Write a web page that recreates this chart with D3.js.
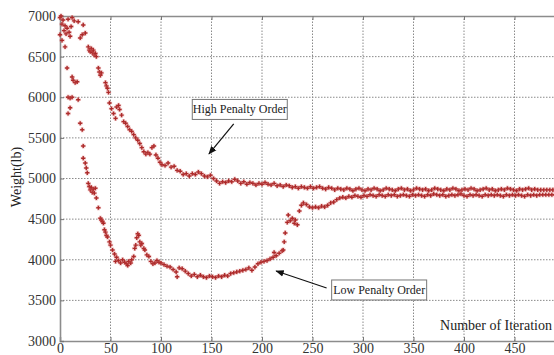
<!DOCTYPE html>
<html>
<head>
<meta charset="utf-8">
<script src="https://cdn.jsdelivr.net/npm/d3@7"></script>
<style>
  body { margin: 0; background: #fff; }
  svg { display: block; }
  text { font-family: "Liberation Serif", "Times New Roman", serif; }
</style>
</head>
<body>
<div id="chart"></div>
<script>
// [iteration, weight]
const highPoints = [
  [0,6980],[1,7000],[2,6900],[3,6950],[4,6820],[5,6880],[6,6780],[7,6850],[8,6960],[9,6800],
  [10,6750],[11,6870],[12,6980],[14,6940],[18,6930],[20,6730],[22,6770],[23,6890],[25,6790],
  [28,6620],[29,6580],[30,6560],[31,6600],[32,6550],[33,6580],[34,6520],[35,6540],[36,6500],
  [38,6360],[39,6310],[40,6270],[41,6300],[45,6180],[46,6140],[47,6110],[48,6060],
  [49,5930],[51,5860],[53,5800],[55,5740],[56,5880],[58,5900],[59,5850],[61,5780],[63,5700],
  [65,5680],[67,5640],[69,5600],[71,5580],[73,5540],[75,5500],[77,5470],[79,5430],[81,5380],
  [83,5330],[85,5300],[87,5320],[89,5300],[91,5380],[93,5400],[95,5290],[97,5250],[99,5200],
  [101,5170],[104,5160],[107,5190],[110,5140],[113,5150],[116,5100],[119,5090],[122,5050],
  [125,5060],[128,5030],[131,5060],[134,5050],[137,5080],[140,5060],[143,5030],[146,5020],
  [149,5040],[152,5000],[155,4970],[158,4940],[161,4960],[164,4950],[167,4970],[170,4960],
  [173,4990],[176,4970],[179,4940],[182,4960],[185,4930],[188,4950],[191,4940],[194,4920],
  [197,4940],[200,4930],[203,4950],[206,4930],[209,4920],[212,4940],[215,4910],[218,4920],
  [221,4900],[224,4920],[227,4910],[230,4890],[233,4900],[236,4880],[239,4900],[242,4890],
  [245,4880],[248,4900],[251,4880],[254,4890],[257,4900],[260,4880],[263,4870],[266,4890],
  [269,4880],[272,4860],[275,4880],[278,4870],[281,4860],[284,4880],[287,4870],[290,4850],
  [293,4870],[296,4880],[299,4860],[302,4850],[305,4870],[308,4860],[311,4880],[314,4870],
  [317,4850],[320,4860],[323,4880],[326,4870],[329,4860],[332,4850],[335,4870],[338,4880],
  [341,4860],[344,4870],[347,4850],[350,4860],[353,4880],[356,4870],[359,4860],[362,4870],
  [365,4850],[368,4860],[371,4880],[374,4870],[377,4860],[380,4850],[383,4870],[386,4860],
  [389,4880],[392,4870],[395,4850],[398,4860],[401,4870],[404,4860],[407,4880],[410,4870],
  [413,4850],[416,4860],[419,4870],[422,4880],[425,4860],[428,4870],[431,4850],[434,4860],
  [437,4870],[440,4860],[443,4880],[446,4870],[449,4860],[452,4850],[455,4870],[458,4860],
  [461,4870],[464,4880],[467,4860],[470,4870],[473,4860],[476,4860],[479,4860],[482,4860],
  [485,4860],[488,4860],[491,4860],[494,4860],[497,4860]
];

const lowPoints = [
  [0,6770],[2,6700],[5,6620],[7,6360],[8,6000],[8,5800],[10,5870],[10,5990],[12,6000],[12,6250],
  [13,6210],[15,6180],[17,6190],[18,5970],[20,5680],[22,5600],[23,5400],[23,5250],[25,5190],
  [26,5130],[27,5070],[28,4940],[29,4900],[30,4860],[31,4890],[32,4830],[33,4870],[34,4820],
  [35,4880],[36,4760],[38,4640],[40,4510],[41,4490],[42,4470],[43,4450],[44,4370],[45,4340],
  [46,4300],[47,4280],[49,4220],[50,4180],[52,4120],[54,4070],[55,3980],[56,4030],[58,3990],
  [60,3960],[62,4000],[64,3970],[66,3950],[67,3930],[68,3980],[70,3960],[71,4000],[73,4040],
  [74,4140],[75,4180],[76,4270],[77,4320],[78,4300],[79,4220],[80,4180],[81,4200],[83,4140],
  [84,4120],[86,4060],[88,4040],[90,3980],[92,3950],[94,3960],[96,3990],[98,3970],[100,3960],
  [103,3940],[106,3920],[109,3910],[112,3880],[115,3850],[116,3790],[118,3900],[121,3890],
  [124,3860],[127,3830],[130,3800],[133,3820],[136,3790],[139,3810],[142,3790],[145,3780],
  [148,3800],[151,3790],[154,3780],[157,3800],[160,3790],[163,3810],[166,3800],[169,3830],
  [172,3840],[175,3850],[178,3860],[181,3870],[184,3880],[187,3900],[190,3870],[193,3910],
  [196,3950],[199,3970],[202,3980],[205,3990],[208,4010],[211,4030],[212,4090],[214,4050],
  [217,4080],[220,4110],[221,4120],[222,4220],[223,4330],[225,4460],[226,4550],[228,4480],
  [230,4510],[232,4450],[233,4490],[235,4430],[237,4600],[239,4670],[241,4700],[244,4680],
  [247,4650],[250,4640],[253,4650],[256,4640],[259,4660],[262,4650],[265,4670],[268,4700],
  [271,4710],[274,4740],[277,4760],[280,4770],[283,4760],[286,4780],[289,4770],[292,4790],
  [295,4780],[298,4770],[301,4790],[304,4780],[307,4800],[310,4790],[313,4780],[316,4800],
  [319,4790],[322,4780],[325,4800],[328,4790],[331,4800],[334,4780],[337,4790],[340,4800],
  [343,4790],[346,4780],[349,4800],[352,4790],[355,4800],[358,4790],[361,4780],[364,4800],
  [367,4790],[370,4810],[373,4800],[376,4790],[379,4800],[382,4780],[385,4790],[388,4800],
  [391,4790],[394,4800],[397,4810],[400,4790],[403,4780],[406,4800],[409,4790],[412,4800],
  [415,4790],[418,4780],[421,4800],[424,4790],[427,4800],[430,4790],[433,4800],[436,4790],
  [439,4780],[442,4800],[445,4790],[448,4800],[451,4790],[454,4800],[457,4790],[460,4780],
  [463,4800],[466,4790],[469,4800],[472,4790],[475,4800],[478,4800],[481,4800],[484,4800],
  [487,4800],[490,4800],[493,4800],[496,4800]
];

const xTicks = [0, 50, 100, 150, 200, 250, 300, 350, 400, 450];
const yTicks = [3000, 3500, 4000, 4500, 5000, 5500, 6000, 6500, 7000];

// annotation boxes: label, box centre, arrow tail, arrow head (data units)
const notes = [
  { label: 'High Penalty Order', box: [178, 5850], from: [172, 5671], to: [147.5, 5302] },
  { label: 'Low Penalty Order', box: [316, 3628], from: [264, 3652], to: [214, 3862] }
];

let width = 554, height = 355;
let margin = {top: 16, left: 60, bottom: 14};

let svg = d3.select('#chart')
    .append('svg')
    .attr('width', width)
    .attr('height', height);

let x = d3.scaleLinear().domain([0, 500]).range([margin.left, margin.left + 505]);
let y = d3.scaleLinear().domain([3000, 7000]).range([height - margin.bottom, margin.top]);

// grid
svg.append('g')
    .selectAll('line')
    .data(xTicks.slice(1))
    .enter()
    .append('line')
    .attr('x1', d => x(d)).attr('x2', d => x(d))
    .attr('y1', y(3000)).attr('y2', y(7000))
    .attr('stroke', '#8a8a8a')
    .attr('stroke-width', 1)
    .attr('stroke-dasharray', '1.5,1.5');

svg.append('g')
    .selectAll('line')
    .data(yTicks.slice(1, -1))
    .enter()
    .append('line')
    .attr('x1', x(0)).attr('x2', width)
    .attr('y1', d => y(d)).attr('y2', d => y(d))
    .attr('stroke', '#8a8a8a')
    .attr('stroke-width', 1)
    .attr('stroke-dasharray', '1.5,1.5');

// axes (MATLAB style: ticks point inward)
let xAxis = d3.axisBottom(x).tickValues(xTicks).tickSize(-4).tickPadding(2).tickFormat(d3.format('d'));
let gx = svg.append('g')
    .attr('transform', 'translate(0,' + y(3000) + ')')
    .call(xAxis);
let xTop = d3.axisTop(x).tickValues(xTicks).tickSize(-4).tickFormat('');
let gxt = svg.append('g')
    .attr('transform', 'translate(0,' + y(7000) + ')')
    .call(xTop);
let yAxis = d3.axisLeft(y).tickValues(yTicks).tickSize(-4).tickPadding(4).tickFormat(d3.format('d'));
let gy = svg.append('g')
    .attr('transform', 'translate(' + x(0) + ',0)')
    .call(yAxis);

[gx, gxt, gy].forEach(g => {
  g.attr('font-family', null);
  g.select('.domain').attr('stroke', '#8c8c8c').attr('stroke-width', 1.6);
  g.selectAll('.tick line').attr('stroke', '#777').attr('stroke-width', 1);
  g.selectAll('.tick text')
      .attr('fill', '#333')
      .attr('font-size', '14px');
});

// markers
let cross = d3.symbol().type(d3.symbolCross).size(10);
function drawSeries(points) {
  svg.append('g')
      .selectAll('path')
      .data(points)
      .enter()
      .append('path')
      .attr('transform', d => 'translate(' + x(d[0]) + ',' + y(d[1]) + ')')
      .attr('d', cross)
      .attr('fill', '#a01c1c')
      .attr('stroke', 'rgba(215,100,100,0.3)')
      .attr('stroke-width', 1.2);
}
drawSeries(highPoints);
drawSeries(lowPoints);

// arrows + boxes
svg.append('defs').append('marker')
    .attr('id', 'head')
    .attr('viewBox', '0 0 10 10')
    .attr('refX', 9).attr('refY', 5)
    .attr('markerWidth', 7).attr('markerHeight', 7)
    .attr('orient', 'auto')
    .append('path')
    .attr('d', 'M0,1 L10,5 L0,9 Z')
    .attr('fill', '#111');

notes.forEach(n => {
  svg.append('line')
      .attr('x1', x(n.from[0])).attr('y1', y(n.from[1]))
      .attr('x2', x(n.to[0])).attr('y2', y(n.to[1]))
      .attr('stroke', '#111')
      .attr('stroke-width', 1.2)
      .attr('marker-end', 'url(#head)');
  let bx = x(n.box[0]), by = y(n.box[1]);
  svg.append('rect')
      .attr('x', bx - 47.5).attr('y', by - 10)
      .attr('width', 95).attr('height', 20)
      .attr('fill', '#fff')
      .attr('stroke', '#777')
      .attr('stroke-width', 1);
  svg.append('text')
      .attr('x', bx).attr('y', by + 4)
      .attr('text-anchor', 'middle')
      .attr('font-size', '12px')
      .attr('fill', '#222')
      .text(n.label);
});

// axis titles
svg.append('text')
    .attr('x', 552)
    .attr('y', 330)
    .attr('text-anchor', 'end')
    .attr('font-size', '14px')
    .attr('fill', '#222')
    .text('Number of Iteration');

svg.append('text')
    .attr('transform', 'translate(21,177) rotate(-90)')
    .attr('text-anchor', 'middle')
    .attr('font-size', '14px')
    .attr('fill', '#222')
    .text('Weight(lb)');
</script>
</body>
</html>
